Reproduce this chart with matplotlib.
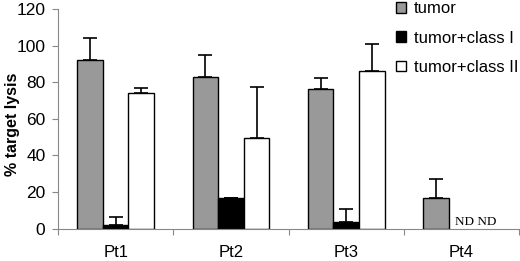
import matplotlib
matplotlib.use("Agg")
import matplotlib.pyplot as plt
import numpy as np

patients = ["Pt1", "Pt2", "Pt3", "Pt4"]
series = ["tumor", "tumor+class I", "tumor+class II"]
tumor = [92, 83, 76, 17]
tumor_err = [12, 12, 6, 10]
class1 = [2, 16.5, 3.5, 0]
class1_err = [4.5, 0.5, 7, 0]
class2 = [74, 49.5, 86, 0]
class2_err = [3, 28, 15, 0]
yticks = [0, 20, 40, 60, 80, 100, 120]

plt.rcParams['font.family'] = ['Liberation Sans', 'DejaVu Sans']

fig = plt.figure(figsize=(5.2, 2.61), dpi=100)
ax = fig.add_axes([0.1115, 0.124, 0.887, 0.842])

x = np.arange(len(patients))
w = 0.222
colors = ["#999999", "#000000", "#ffffff"]
vals = [tumor, class1, class2]
errs = [tumor_err, class1_err, class2_err]
handles = []
for k in range(3):
    n = 4 if k == 0 else 3
    xs = x[:n] + (k - 1) * w
    b = ax.bar(xs, vals[k][:n], w, color=colors[k], edgecolor="black",
               linewidth=1.0, label=series[k], zorder=2)
    ax.errorbar(xs, vals[k][:n], yerr=[np.zeros(n), errs[k][:n]], fmt="none",
                ecolor="black", elinewidth=1.2, capsize=5, capthick=1.2, zorder=1)
    handles.append(b)

ax.text(x[3] - 0.5 * w + 0.05, 0.3, "ND ND", family="Liberation Serif",
        fontsize=9.5, va="bottom", ha="left")

ax.set_xlim(-0.5, 3.5)
ax.set_ylim(0, 120)
ax.set_yticks(yticks)
ax.set_yticklabels([str(t) for t in yticks], fontsize=12.5)
ax.set_xticks(np.arange(-0.5, 3.6, 1.0))
ax.set_xticklabels([])
ax.set_xticks(x, minor=True)
ax.set_xticklabels(patients, minor=True, fontsize=12)
ax.tick_params(axis="x", which="minor", length=0, pad=12)
ax.tick_params(axis="x", which="major", length=4, color="#888888", direction="out")
ax.tick_params(axis="y", length=4, color="#888888", pad=5)
for s in ["top", "right"]:
    ax.spines[s].set_visible(False)
for s in ["left", "bottom"]:
    ax.spines[s].set_color("#888888")
fig.text(0.024, 0.525, "% target lysis", fontsize=11.5, fontweight="bold",
         rotation=90, ha="center", va="center")

fig.legend(handles=handles, loc="upper left", bbox_to_anchor=(0.748, 1.02),
           frameon=False, fontsize=12, handlelength=0.6, handleheight=0.6,
           handletextpad=0.5, labelspacing=0.85, borderaxespad=0)

fig.savefig("out.png", dpi=100)
